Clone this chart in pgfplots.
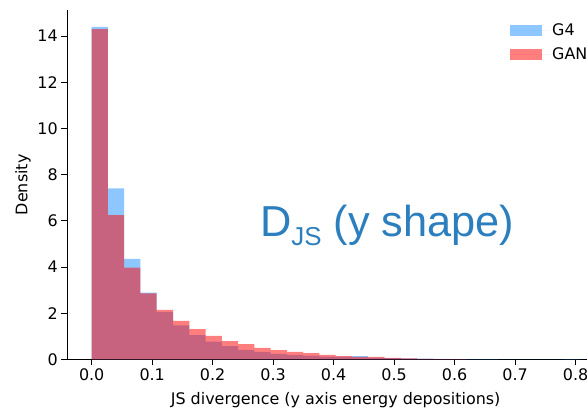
\documentclass[border=0pt]{standalone}
\usepackage{pgfplots}
\pgfplotsset{compat=1.18}
\usepackage{fontspec}
\setmainfont{DejaVu Sans}
\newfontfamily\annfont{Liberation Sans}
\definecolor{gfour}{RGB}{30,144,255}
\definecolor{gan}{RGB}{255,0,0}
\definecolor{anncol}{RGB}{44,127,190}
\begin{document}
\begin{tikzpicture}
\useasboundingbox (-67.3bp,-52.7bp) rectangle (519.7bp,359.3bp);
\clip (-67.3bp,-52.7bp) rectangle (519.7bp,359.3bp);
\begin{axis}[
  at={(0,0)}, anchor=south west,
  scale only axis,
  width=536.6bp, height=349bp,
  xmin=-0.0403, xmax=0.8467,
  ymin=0, ymax=15.12,
  axis x line*=bottom, axis y line*=left,
  axis line style={-, line width=0.9bp, black},
  tick align=outside,
  major tick length=6bp,
  tick style={line width=0.9bp, black},
  xtick={0,0.1,0.2,0.3,0.4,0.5,0.6,0.7,0.8},
  ytick={0,2,4,6,8,10,12,14},
  xticklabel style={/pgf/number format/.cd, fixed, fixed zerofill, precision=1},
  /pgf/number format/assume math mode=true,
  tick label style={font=\fontsize{16}{19}\selectfont},
  label style={font=\fontsize{16}{19}\selectfont},
  xlabel={JS divergence (y axis energy depositions)},
  xlabel style={yshift=-5bp},
  ylabel={Density},
  legend style={draw=none, fill=none, at={(rel axis cs:0.825,0.968)}, anchor=north west,
    font=\fontsize{16}{19}\selectfont, inner sep=0pt, row sep=7bp,
    cells={anchor=west}},
  legend cell align=left,
  legend image code/.code={\fill[#1,/tikz/.cd,draw=none] (0bp,-5.5bp) rectangle (32bp,5.5bp);\path (0bp,0bp) -- (40bp,0bp);},
]
\addplot[ybar interval, fill=gfour, fill opacity=0.5, draw=none] table {
x y
0.00000 14.40
0.02689 7.41
0.05378 4.35
0.08067 2.89
0.10756 2.05
0.13445 1.47
0.16134 1.05
0.18823 0.77
0.21512 0.57
0.24201 0.41
0.26890 0.32
0.29579 0.24
0.32268 0.19
0.34957 0.16
0.37646 0.12
0.40335 0.12
0.43024 0.14
0.45713 0.07
0.48402 0.05
0.51091 0.04
0.53780 0.03
0.56469 0.015
0.59158 0.01
0.61847 0.005
0.64536 0.003
0.67225 0
0.69914 0
0.72603 0
0.75292 0
0.77981 0.003
0.80670 0.003
};
\addlegendentry{G4}
\addplot[ybar interval, fill=gan, fill opacity=0.5, draw=none] table {
x y
0.00000 14.30
0.02689 6.25
0.05378 3.97
0.08067 2.86
0.10756 2.14
0.13445 1.66
0.16134 1.31
0.18823 1.01
0.21512 0.79
0.24201 0.66
0.26890 0.50
0.29579 0.40
0.32268 0.32
0.34957 0.27
0.37646 0.19
0.40335 0.14
0.43024 0.10
0.45713 0.10
0.48402 0.06
0.51091 0.04
0.53780 0.02
0.56469 0.01
0.59158 0.005
0.61847 0
};
\addlegendentry{GAN}
\node[anchor=base west, inner sep=0pt, text=anncol, font=\annfont\fontsize{43.5}{50}\selectfont]
  at (axis cs:0.278,5.30) {D\raisebox{-9bp}{\fontsize{26}{30}\selectfont JS} (y shape)};
\end{axis}
\end{tikzpicture}
\end{document}
